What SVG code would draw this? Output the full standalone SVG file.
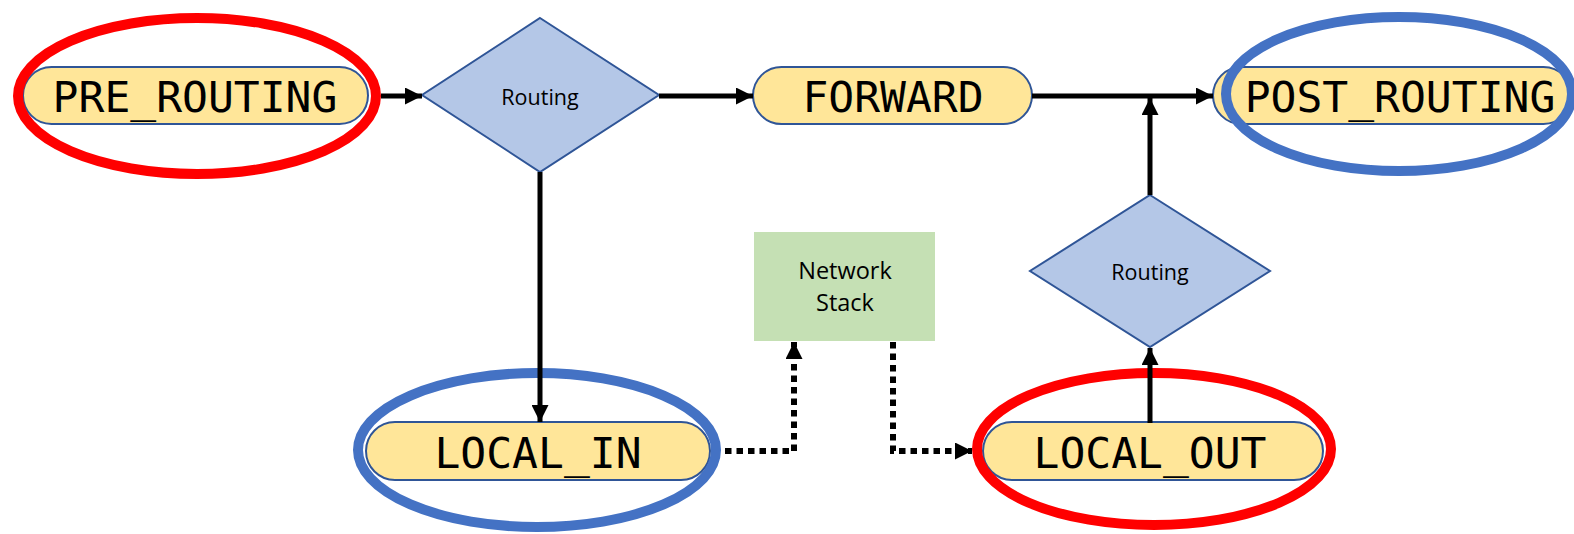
<svg xmlns="http://www.w3.org/2000/svg" width="1574" height="534" viewBox="0 0 1574 534">
<style>
.pill{fill:#ffe699;stroke:#2f5597;stroke-width:2}
.dia{fill:#b4c7e7;stroke:#2f5597;stroke-width:2}
.mono{font-family:"DejaVu Sans Mono","Liberation Mono",monospace;font-size:43px;fill:#000;text-anchor:middle}
.lbl{font-family:"Open Sans","Noto Sans","Liberation Sans",sans-serif;font-size:21.5px;fill:#000;text-anchor:middle}
.red{fill:none;stroke:#ff0000;stroke-width:10}
.blue{fill:none;stroke:#4472c4;stroke-width:10}
.conn{fill:none;stroke:#000;stroke-width:5}
.dot{fill:none;stroke:#000;stroke-width:6;stroke-dasharray:6.5 5}
</style>
<defs>
<marker id="ah" markerUnits="userSpaceOnUse" markerWidth="17" markerHeight="17" refX="17" refY="8.5" orient="auto">
<path d="M0,0 L17,8.5 L0,17 z" fill="#000"/>
</marker>
</defs>
<g id="pre_routing">
<rect class="pill" x="23" y="67" width="345" height="57" rx="28.5"/>
<text class="mono" x="195" y="112">PRE_ROUTING</text>
</g>
<g id="routing1">
<polygon class="dia" points="540,18 659,95 540,172 422,95"/>
<text class="lbl" x="540" y="105">Routing</text>
</g>
<g id="forward">
<rect class="pill" x="753" y="67" width="279" height="57" rx="28.5"/>
<text class="mono" x="893" y="112">FORWARD</text>
</g>
<g id="post_routing">
<rect class="pill" x="1213" y="67" width="359" height="57" rx="28.5"/>
<text class="mono" x="1400" y="112">POST_ROUTING</text>
</g>
<g id="network_stack">
<rect x="754" y="232" width="181" height="109" fill="#c5e0b4"/>
<text class="lbl" x="845" y="279" style="font-size:23.5px">Network</text>
<text class="lbl" x="845" y="311" style="font-size:23.5px">Stack</text>
</g>
<g id="routing2">
<polygon class="dia" points="1150,195 1270,271 1150,347 1030,271"/>
<text class="lbl" x="1150" y="280">Routing</text>
</g>
<g id="local_in">
<rect class="pill" x="366" y="422" width="344" height="58" rx="29"/>
<text class="mono" x="538" y="468">LOCAL_IN</text>
</g>
<g id="local_out">
<rect class="pill" x="983" y="422" width="340" height="58" rx="29"/>
<text class="mono" x="1150" y="468">LOCAL_OUT</text>
</g>
<g id="highlights">
<ellipse class="red" cx="197" cy="96" rx="179" ry="78"/>
<ellipse class="blue" cx="1399" cy="94" rx="173" ry="77"/>
<ellipse class="blue" cx="537" cy="450" rx="179" ry="77"/>
<ellipse class="red" cx="1154" cy="449" rx="177" ry="76"/>
</g>
<g id="connectors">
<path class="conn" d="M381,96 L422,96" marker-end="url(#ah)"/>
<path class="conn" d="M659,96 L753,96" marker-end="url(#ah)"/>
<path class="conn" d="M1032,96 L1213,96" marker-end="url(#ah)"/>
<path class="conn" d="M1150,195 L1150,98" marker-end="url(#ah)"/>
<path class="conn" d="M540,172 L540,422" marker-end="url(#ah)"/>
<path class="conn" d="M1150,423 L1150,348" marker-end="url(#ah)"/>
<path class="dot" d="M725,451 L794,451 L794,342" marker-end="url(#ah)"/>
<path class="dot" d="M893,342 L893,451 L972,451" marker-end="url(#ah)"/>
</g>
</svg>
